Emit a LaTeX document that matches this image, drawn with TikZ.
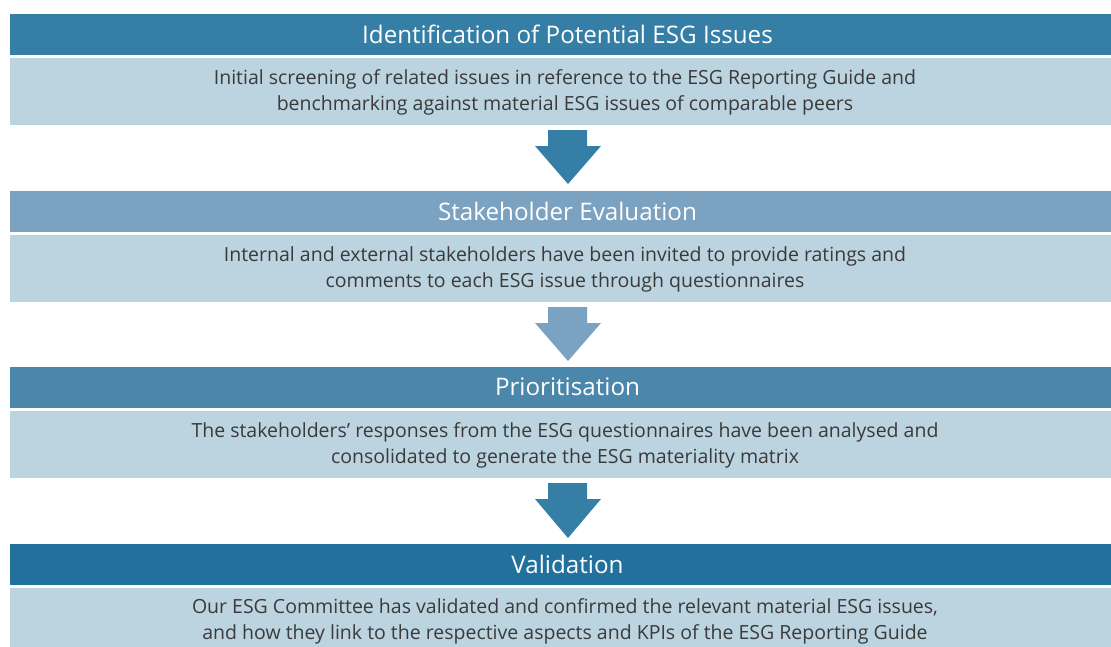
\documentclass[tikz,border=0pt]{standalone}
\usepackage{fontspec}
\setmainfont{Open Sans}
\definecolor{headA}{HTML}{357EA6}
\definecolor{headB}{HTML}{7BA2C0}
\definecolor{headC}{HTML}{4B87AB}
\definecolor{headD}{HTML}{22709C}
\definecolor{bodyfill}{HTML}{BCD4E0}
\definecolor{bodytext}{HTML}{3A3A3A}
\begin{document}
\begin{tikzpicture}[x=1pt,y=-1pt,
  headbox/.style={rectangle, inner sep=0pt, minimum width=1101pt, minimum height=41pt},
  bodybox/.style={rectangle, inner sep=0pt, fill=bodyfill, minimum width=1101pt, minimum height=67pt},
  headtext/.style={inner sep=0pt, text=white, font=\fontsize{24.2}{28}\selectfont},
  bodytext/.style={inner sep=0pt, text=bodytext, align=center, font=\fontsize{19.5}{25.5}\selectfont}
]
\useasboundingbox (0,0) rectangle (1111,646);

% step 1
\node[headbox, fill=headA] (h1) at (560.5,34.5) {};
\node[headtext] (h1t) at (567.5,34) {Identification of Potential ESG Issues};
\node[bodybox] (b1) at (560.5,91.5) {};
\node[bodytext] (b1t) at (565,92.5) {Initial screening of related issues in reference to the ESG Reporting Guide and\\benchmarking against material ESG issues of comparable peers};

% step 2
\node[headbox, fill=headB] (h2) at (560.5,211.5) {};
\node[headtext] (h2t) at (567.5,211) {Stakeholder Evaluation};
\node[bodybox] (b2) at (560.5,268.5) {};
\node[bodytext] (b2t) at (565,269.5) {Internal and external stakeholders have been invited to provide ratings and\\comments to each ESG issue through questionnaires};

% step 3
\node[headbox, fill=headC] (h3) at (560.5,387.5) {};
\node[headtext] (h3t) at (567.5,387) {Prioritisation};
\node[bodybox] (b3) at (560.5,444.5) {};
\node[bodytext] (b3t) at (565,445.5) {The stakeholders’ responses from the ESG questionnaires have been analysed and\\consolidated to generate the ESG materiality matrix};

% step 4
\node[headbox, fill=headD] (h4) at (560.5,564.5) {};
\node[headtext] (h4t) at (567.5,564) {Validation};
\node[bodybox, minimum height=62pt] (b4) at (560.5,619) {};
\node[bodytext] (b4t) at (565,621.5) {Our ESG Committee has validated and confirmed the relevant material ESG issues,\\and how they link to the respective aspects and KPIs of the ESG Reporting Guide};

% block arrows between the steps
\foreach \top/\tip/\col in {130/184/headA, 307/361/headB, 483/538/headA}{
  \fill[\col] (548,\top) -- (587,\top) -- (587,\top+16) -- (601,\top+16)
     -- (568,\tip) -- (535,\top+16) -- (548,\top+16) -- cycle;
}
\end{tikzpicture}
\end{document}
